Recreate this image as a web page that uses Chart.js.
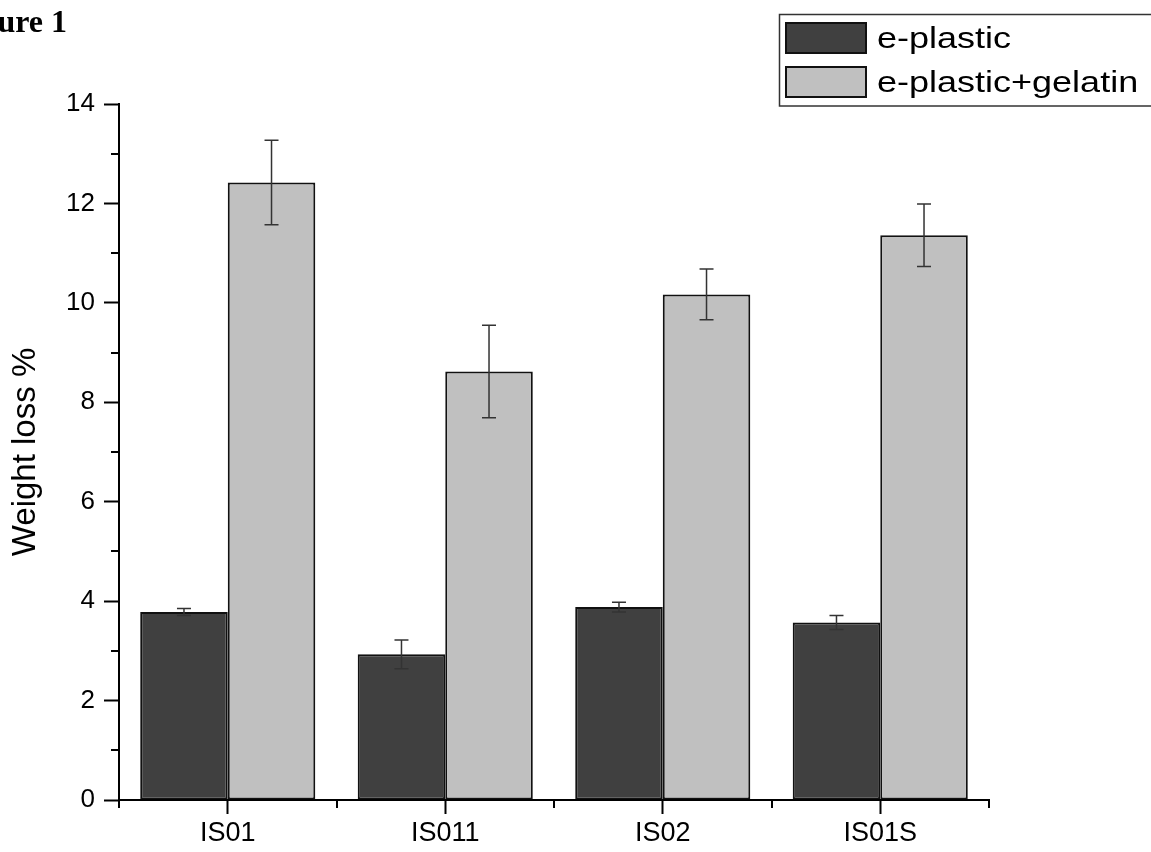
<!DOCTYPE html>
<html>
<head>
<meta charset="utf-8">
<script src="https://cdn.jsdelivr.net/npm/chart.js@4/dist/chart.umd.min.js"></script>
<style>
  html, body { margin: 0; padding: 0; background: #fff; }
  #wrap { width: 1151px; height: 852px; position: relative; }
</style>
</head>
<body>
<div id="wrap"><canvas id="grafico" width="1151" height="852"></canvas></div>
<script>
// datos
const categorias = ['IS01', 'IS011', 'IS02', 'IS01S'];
const plastico = [3.78, 2.93, 3.88, 3.57];
const plasticoErr = [0.07, 0.29, 0.10, 0.14];
const gelatina = [12.42, 8.62, 10.17, 11.36];
const gelatinaErr = [0.85, 0.93, 0.51, 0.63];
const nombresSeries = ['e-plastic', 'e-plastic+gelatin'];
const ticksY = [0, 2, 4, 6, 8, 10, 12, 14];
const tituloY = 'Weight loss %';
const tituloFigura = 'Figure 1';

const errores = [plasticoErr, gelatinaErr];

// barras de error
const barrasError = {
  id: 'barrasError',
  afterDatasetsDraw(chart) {
    const ctx = chart.ctx;
    const y = chart.scales.y;
    ctx.save();
    ctx.strokeStyle = '#333';
    ctx.lineWidth = 1.5;
    chart.data.datasets.forEach((ds, i) => {
      const meta = chart.getDatasetMeta(i);
      meta.data.forEach((bar, j) => {
        const v = ds.data[j], e = errores[i][j];
        const y1 = y.getPixelForValue(v + e);
        const y2 = y.getPixelForValue(v - e);
        ctx.beginPath();
        ctx.moveTo(bar.x, y1); ctx.lineTo(bar.x, y2);
        ctx.moveTo(bar.x - 7, y1); ctx.lineTo(bar.x + 7, y1);
        ctx.moveTo(bar.x - 7, y2); ctx.lineTo(bar.x + 7, y2);
        ctx.stroke();
      });
    });
    ctx.restore();
  }
};

// ticks menores en ambos ejes
const ticksMenores = {
  id: 'ticksMenores',
  afterDraw(chart) {
    const ctx = chart.ctx;
    const x = chart.scales.x, y = chart.scales.y;
    const area = chart.chartArea;
    ctx.save();
    ctx.strokeStyle = '#000';
    ctx.lineWidth = 2;
    ctx.beginPath();
    for (let k = 0; k < ticksY.length - 1; k++) {
      const py = Math.round(y.getPixelForValue((ticksY[k] + ticksY[k + 1]) / 2));
      ctx.moveTo(area.left, py); ctx.lineTo(area.left - 8, py);
    }
    for (let k = 0; k <= categorias.length; k++) {
      const px = Math.round(x.getPixelForValue(k - 0.5));
      ctx.moveTo(px, area.bottom); ctx.lineTo(px, area.bottom + 8);
    }
    ctx.stroke();
    ctx.restore();
  }
};

// leyenda y titulo de figura
const leyenda = {
  id: 'leyenda',
  afterDraw(chart) {
    const ctx = chart.ctx;
    ctx.save();
    ctx.strokeStyle = '#333';
    ctx.lineWidth = 1.5;
    ctx.strokeRect(779.5, 14.5, 400, 91.5);
    const filas = [[22, 48], [66, 92]];
    chart.data.datasets.forEach((ds, i) => {
      const [top, base] = filas[i];
      ctx.fillStyle = ds.backgroundColor;
      ctx.fillRect(785, top, 82, 32);
      ctx.strokeStyle = '#111';
      ctx.lineWidth = 2;
      ctx.strokeRect(786, top + 1, 80, 30);
      ctx.save();
      ctx.translate(877, base);
      ctx.scale(1.2, 1);
      ctx.fillStyle = '#000';
      ctx.font = '30px "Liberation Sans", Arial, sans-serif';
      ctx.textBaseline = 'alphabetic';
      ctx.fillText(ds.label, 0, 0);
      ctx.restore();
    });
    ctx.fillStyle = '#000';
    ctx.font = 'bold 32px "Liberation Serif", "Times New Roman", serif';
    ctx.textAlign = 'right';
    ctx.textBaseline = 'alphabetic';
    ctx.fillText(tituloFigura, 67, 32);
    ctx.restore();
  }
};

new Chart(document.getElementById('grafico'), {
  type: 'bar',
  data: {
    labels: categorias,
    datasets: [
      { label: nombresSeries[0], data: plastico, backgroundColor: '#404040', borderColor: '#111', borderWidth: 2, borderSkipped: false },
      { label: nombresSeries[1], data: gelatina, backgroundColor: '#c0c0c0', borderColor: '#111', borderWidth: 2, borderSkipped: false }
    ]
  },
  options: {
    responsive: false,
    animation: false,
    devicePixelRatio: 1,
    layout: { padding: { top: 104, right: 162, left: 0, bottom: 0 } },
    datasets: { bar: { categoryPercentage: 0.805, barPercentage: 1.0 } },
    plugins: { legend: { display: false }, tooltip: { enabled: false } },
    scales: {
      x: {
        afterFit(s) { s.height = 52; },
        grid: { display: true, drawOnChartArea: false, offset: false, tickLength: 14, tickWidth: 2, tickColor: '#000' },
        border: { display: true, color: '#000', width: 2 },
        ticks: { color: '#000', padding: 3, font: { family: '"Liberation Sans", Arial, sans-serif', size: 27 } }
      },
      y: {
        min: 0,
        max: 14,
        afterFit(s) { s.width = 119; },
        afterBuildTicks(s) { s.ticks = ticksY.map(v => ({ value: v })); },
        grid: { display: true, drawOnChartArea: false, tickLength: 15, tickWidth: 2, tickColor: '#000' },
        border: { display: true, color: '#000', width: 2 },
        ticks: { color: '#000', padding: 9, font: { family: '"Liberation Sans", Arial, sans-serif', size: 26 } },
        title: {
          display: true,
          text: tituloY,
          color: '#000',
          padding: { top: 6, bottom: 0 },
          font: { family: '"Liberation Sans", Arial, sans-serif', size: 33, weight: 'normal' }
        }
      }
    }
  },
  plugins: [barrasError, ticksMenores, leyenda]
});
</script>
</body>
</html>
